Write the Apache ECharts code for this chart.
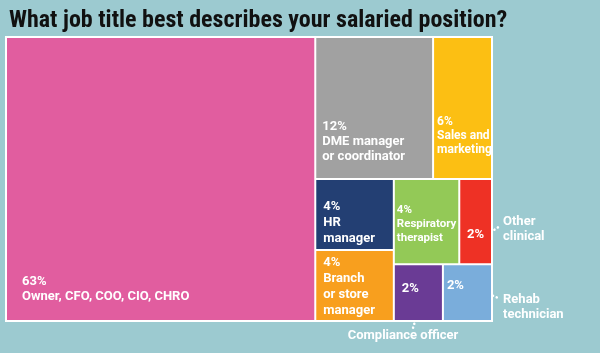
<!DOCTYPE html>
<html>
<head>
<meta charset="utf-8">
<script src="https://cdn.jsdelivr.net/npm/echarts@6/dist/echarts.min.js"></script>
<style>
html,body{margin:0;padding:0;background:#9ccad0;}
#main{width:600px;height:353px;}
</style>
</head>
<body>
<div id="main"></div>
<script>
// ---- data ----
const titleText = 'What job title best describes your salaried position?';
const names = ['Owner, CFO, COO, CIO, CHRO', 'DME manager or coordinator', 'Sales and marketing',
  'HR manager', 'Respiratory therapist', 'Other clinical', 'Branch or store manager',
  'Compliance officer', 'Rehab technician'];
const values = [63, 12, 6, 4, 4, 2, 4, 2, 2];
const insideLines = [
  ['Owner, CFO, COO, CIO, CHRO'],
  ['DME manager', 'or coordinator'],
  ['Sales and', 'marketing'],
  ['HR', 'manager'],
  ['Respiratory', 'therapist'],
  [],
  ['Branch', 'or store', 'manager'],
  [],
  []
];
const outsideLines = [null, null, null, null, null, ['Other', 'clinical'], null, ['Compliance officer'], ['Rehab', 'technician']];
// grouping of leaves (indices) used for the tiling
const grouping = [0, [[1, 2], [[3, 6], [[4, 5], [7, 8]]]]];

// ---- styles ----
const colors = ['#e15d9f', '#a1a1a1', '#fcbf13', '#233f73', '#93c957', '#ee3125', '#f89f1e', '#6a3b95', '#7aaddb'];
const FONT = 'Roboto, "Noto Sans", sans-serif';
const labelCfg = [
  {pos: [15, 236], size: 13, lh: 15},
  {pos: [6, 81], size: 13, lh: 15},
  {pos: [3, 77], size: 12, lh: 14},
  {pos: [7, 19], size: 13, lh: 16},
  {pos: [2, 23], size: 11.5, lh: 14},
  {pos: ['50%', '66%'], size: 13, lh: 15, center: true},
  {pos: [7, 4], size: 13, lh: 16},
  {pos: [7, 16], size: 13, lh: 15},
  {pos: [3, 13], size: 13, lh: 15}
];

function leaf(i) {
  const c = labelCfg[i];
  const text = [values[i] + '%'].concat(insideLines[i]).join('\n');
  return {
    name: names[i],
    value: values[i],
    itemStyle: {color: colors[i], borderColor: '#fff', borderWidth: 1, gapWidth: 0},
    label: {
      show: true,
      formatter: text,
      position: c.pos,
      align: c.center ? 'center' : 'left',
      verticalAlign: c.center ? 'middle' : 'top',
      fontSize: c.size,
      lineHeight: c.lh,
      fontFamily: FONT,
      fontWeight: 'bold',
      color: '#fff',
      padding: 0,
      overflow: 'none'
    }
  };
}
function build(g) {
  if (typeof g === 'number') return leaf(g);
  return {
    name: '',
    children: g.map(build),
    itemStyle: {borderWidth: 0, gapWidth: 0, borderColor: '#fff'},
    label: {show: false}
  };
}
const treeData = grouping.map(build);

const chart = echarts.init(document.getElementById('main'), null, {renderer: 'canvas'});
chart.setOption({
  backgroundColor: '#9ccad0',
  animation: false,
  title: {
    text: titleText,
    left: 4,
    top: 4,
    textStyle: {fontFamily: '"Liberation Sans Narrow", "Roboto Condensed", Roboto, sans-serif', fontWeight: 'bold', fontSize: 24, color: '#111'}
  },
  series: [{
    type: 'treemap',
    left: 5, top: 36, width: 488, height: 286,
    roam: false,
    nodeClick: false,
    sort: false,
    squareRatio: 1,
    breadcrumb: {show: false},
    label: {show: true},
    upperLabel: {show: false},
    itemStyle: {borderWidth: 0, gapWidth: 0, borderColor: '#fff'},
    levels: [{itemStyle: {borderWidth: 1, gapWidth: 0, borderColor: '#fff'}}],
    emphasis: {disabled: true},
    data: treeData
  }],
  graphic: [
    {type: 'text', left: 503, top: 214, style: {text: outsideLines[5].join('\n'), fill: '#fff', font: 'bold 13px ' + FONT, lineHeight: 15}},
    {type: 'text', left: 503, top: 292, style: {text: outsideLines[8].join('\n'), fill: '#fff', font: 'bold 13px ' + FONT, lineHeight: 15}},
    {type: 'text', x: 403, y: 336, style: {text: outsideLines[7].join('\n'), fill: '#fff', font: 'bold 13px ' + FONT, align: 'center', verticalAlign: 'middle'}},
    {type: 'polyline', shape: {points: [[491, 232], [500, 226]]}, style: {stroke: '#fff', lineWidth: 2.5, lineDash: [0.1, 4], lineCap: 'round', fill: null}},
    {type: 'polyline', shape: {points: [[478, 289], [498, 298]]}, style: {stroke: '#fff', lineWidth: 2.5, lineDash: [0.1, 4], lineCap: 'round', fill: null}},
    {type: 'polyline', shape: {points: [[419, 308], [413, 328]]}, style: {stroke: '#fff', lineWidth: 2.5, lineDash: [0.1, 4], lineCap: 'round', fill: null}}
  ]
});
</script>
</body>
</html>
